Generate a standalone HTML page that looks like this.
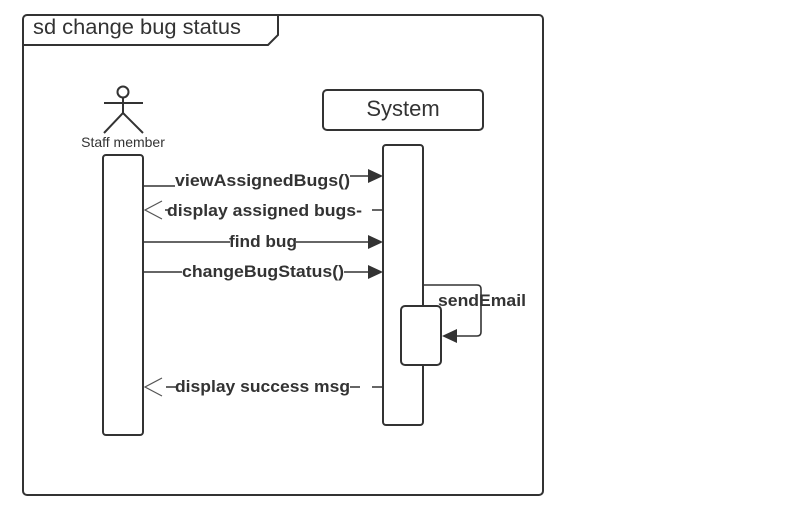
<!DOCTYPE html>
<html><head><meta charset="utf-8"><style>
html,body{margin:0;padding:0;background:#fff;width:797px;height:509px;overflow:hidden}
text{font-family:"Liberation Sans",Arial,sans-serif;fill:#333}
</style></head><body>
<svg width="797" height="509" viewBox="0 0 797 509" xmlns="http://www.w3.org/2000/svg">
<g fill="none" stroke="#333" stroke-width="2">
<rect x="23" y="15" width="520" height="480" rx="4"/>
<path d="M23 45 H268 L278 35 V15"/>
<circle cx="123" cy="92" r="5.5"/>
<path d="M104 103 H143 M123 97.5 V113 L104 133 M123 113 L143 133"/>
<rect x="103" y="155" width="40" height="280" rx="3" fill="#fff"/>
<rect x="323" y="90" width="160" height="40" rx="4"/>
<rect x="383" y="145" width="40" height="280" rx="3" fill="#fff"/>
<rect x="401" y="306" width="40" height="59" rx="4" fill="#fff"/>
</g>
<g stroke="#333" stroke-width="1.6" fill="none">
<path d="M143 186 H175"/>
<path d="M350 176 H370"/>
<path d="M372 210 H383 M165 210 H170"/>
<path d="M143 242 H230 M296 242 H370"/>
<path d="M143 272 H182 M344 272 H370"/>
<path d="M423 285 H477 Q481 285 481 289 V332 Q481 336 477 336 H455"/>
<path d="M372 387 H383 M166 387 H177 M350 387 H360"/>
</g>
<g stroke="#555" stroke-width="1.2" fill="none">
<path d="M162 201 L145 210 L162 219"/>
<path d="M162 378 L145 387 L162 396"/>
</g>
<g fill="#333">
<path d="M368 169 L383 176 L368 183 Z"/>
<path d="M368 235 L383 242 L368 249 Z"/>
<path d="M368 265 L383 272 L368 279 Z"/>
<path d="M457 329 L442 336 L457 343 Z"/>
</g>
<text x="33" y="34" font-size="21" textLength="208" lengthAdjust="spacingAndGlyphs">sd change bug status</text>
<text x="123" y="147" font-size="14" text-anchor="middle">Staff member</text>
<text x="403" y="116" font-size="22" text-anchor="middle">System</text>
<g font-size="17" font-weight="bold">
<text x="175" y="186" textLength="175" lengthAdjust="spacingAndGlyphs">viewAssignedBugs()</text>
<text x="167" y="216" textLength="195" lengthAdjust="spacingAndGlyphs">display assigned bugs-</text>
<text x="229" y="247" textLength="68" lengthAdjust="spacingAndGlyphs">find bug</text>
<text x="182" y="277" textLength="162" lengthAdjust="spacingAndGlyphs">changeBugStatus()</text>
<text x="438" y="306" textLength="88" lengthAdjust="spacingAndGlyphs">sendEmail</text>
<text x="175" y="392" textLength="175" lengthAdjust="spacingAndGlyphs">display success msg</text>
</g>
</svg>
</body></html>
